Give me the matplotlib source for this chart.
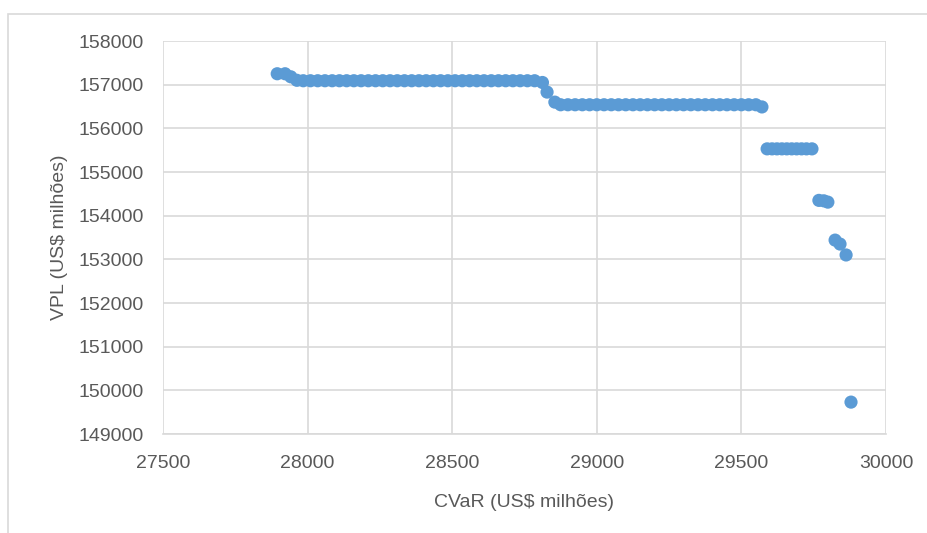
import matplotlib.pyplot as plt
from matplotlib.patches import Rectangle

plt.rcParams["font.family"] = ["Liberation Sans Narrow", "Liberation Sans", "DejaVu Sans"]

# CVaR x VPL frontier points (US$ milhões)
cvar = [
    27895, 27922, 27942, 27963,
    27985, 28010, 28035, 28060, 28085, 28110, 28135, 28160, 28185, 28210, 28235,
    28260, 28285, 28310, 28335, 28360, 28385, 28410, 28435, 28460, 28485, 28510,
    28535, 28560, 28585, 28610, 28635, 28660, 28685, 28710, 28735, 28760, 28785,
    28812, 28828, 28855,
    28875, 28900, 28925, 28950, 28975, 29000, 29025, 29050, 29075, 29100, 29125,
    29150, 29175, 29200, 29225, 29250, 29275, 29300, 29325, 29350, 29375, 29400,
    29425, 29450, 29475, 29500, 29525, 29550,
    29571,
    29589, 29606, 29623, 29640, 29657, 29674, 29691, 29708, 29725, 29744,
    29768, 29785, 29799,
    29824, 29841, 29862,
    29879,
]
vpl = [
    157250, 157250, 157180, 157100,
    157090, 157090, 157090, 157090, 157090, 157090, 157090, 157090, 157090, 157090, 157090,
    157090, 157090, 157090, 157090, 157090, 157090, 157090, 157090, 157090, 157090, 157090,
    157090, 157090, 157090, 157090, 157090, 157090, 157090, 157090, 157090, 157090, 157090,
    157050, 156830, 156600,
    156540, 156540, 156540, 156540, 156540, 156540, 156540, 156540, 156540, 156540, 156540,
    156540, 156540, 156540, 156540, 156540, 156540, 156540, 156540, 156540, 156540, 156540,
    156540, 156540, 156540, 156540, 156540, 156540,
    156490,
    155530, 155530, 155530, 155530, 155530, 155530, 155530, 155530, 155530, 155530,
    154350, 154340, 154310,
    153440, 153350, 153100,
    149730,
]

xticks = [27500, 28000, 28500, 29000, 29500, 30000]
yticks = [149000, 150000, 151000, 152000, 153000, 154000, 155000, 156000, 157000, 158000]

W, H = 928, 533
fig = plt.figure(figsize=(W / 100, H / 100), dpi=100)
ax = fig.add_axes([163 / W, 1 - 434 / H, (886 - 163) / W, (434 - 41) / H])

grid_color = "#d9d9d9"
text_color = "#595959"

ax.scatter(cvar, vpl, s=90, color="#5b9bd5", edgecolors="none", zorder=3)

ax.set_xlim(27500, 30000)
ax.set_ylim(149000, 158000)
ax.set_xticks(xticks)
ax.set_yticks(yticks)
ax.grid(True, color=grid_color, linewidth=1.2)
ax.set_axisbelow(True)
for side in ["top", "right", "left"]:
    ax.spines[side].set_visible(False)
ax.spines["bottom"].set_color(grid_color)
ax.spines["bottom"].set_linewidth(1.2)
ax.tick_params(length=0, labelsize=14, colors=text_color, pad=14)
ax.tick_params(axis="x", pad=15)

ax.set_xlabel("CVaR (US$ milhões)", fontsize=14, color=text_color, labelpad=16)
ax.set_ylabel("VPL (US$ milhões)", fontsize=14, color=text_color, labelpad=7)

# light chart border, open to the right and bottom
fig.add_artist(Rectangle((8 / W, -0.1), 1.2, 1.1 - 14 / H, transform=fig.transFigure,
                         fill=False, edgecolor=grid_color, linewidth=1.2))

fig.savefig("out.png", dpi=100)
